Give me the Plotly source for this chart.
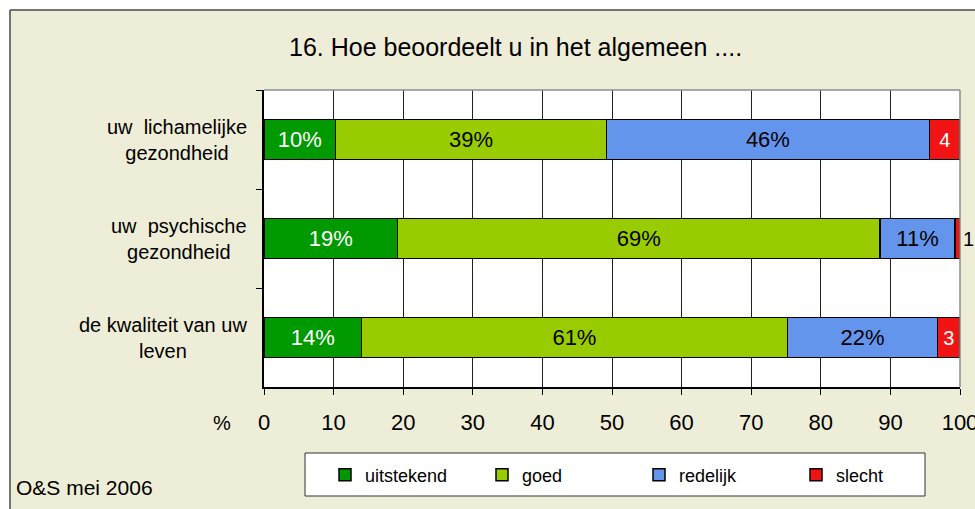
import plotly.graph_objects as go

# ---- data ----
categories = ["uw  lichamelijke<br>gezondheid", "uw  psychische<br>gezondheid", "de kwaliteit van uw<br>leven"]
series_names = ["uitstekend", "goed", "redelijk", "slecht"]
uitstekend = [10.3, 19.2, 14.0]
goed = [38.9, 69.3, 61.2]
redelijk = [46.4, 10.8, 21.6]
slecht = [4.4, 0.7, 3.19]
x_ticks = [0, 10, 20, 30, 40, 50, 60, 70, 80, 90, 100]
title_text = "16. Hoe beoordeelt u in het algemeen ...."
source_text = "O&S mei 2006"

# ---- style ----
FONT = "Liberation Sans, Arial, sans-serif"
colors = ["#009900", "#99CC00", "#6495ED", "#F21414"]
BG = "#EEEDD7"
W, H = 975, 509
L, T = 264, 90
R = W - 960
B = H - 387
PW, PH = W - L - R, H - T - B


def px_x(px):
    return (px - L) / PW


def px_y(py):
    return (H - B - py) / PH


fig = go.Figure()
values = [uitstekend, goed, redelijk, slecht]
for i, (name, vals) in enumerate(zip(series_names, values)):
    last = i == len(series_names) - 1
    if last:
        tpos = ["inside" if v >= 2 else "outside" for v in vals]
        tmpl = "%{x:.0f}"
        inside_col = "white"
        fsize = 20
    else:
        tpos = "inside"
        tmpl = "%{x:.0f}%"
        inside_col = "white" if i == 0 else "black"
        fsize = 22
    fig.add_trace(go.Bar(
        name=name,
        y=categories,
        x=vals,
        orientation="h",
        width=0.4,
        marker=dict(color=colors[i], line=dict(color="black", width=1.5)),
        texttemplate=tmpl,
        textposition=tpos,
        textangle=0,
        insidetextanchor="middle",
        insidetextfont=dict(family=FONT, size=fsize, color=inside_col),
        outsidetextfont=dict(family=FONT, size=fsize, color="black"),
        constraintext="none",
        cliponaxis=not last,
        hoverinfo="skip",
    ))

shapes = [
    # white margin strips outside the chart border
    dict(type="rect", xref="paper", yref="paper", x0=px_x(-20), x1=px_x(1000),
         y0=px_y(10), y1=px_y(-20), fillcolor="white", line=dict(width=0), layer="below"),
    dict(type="rect", xref="paper", yref="paper", x0=px_x(-20), x1=px_x(10),
         y0=px_y(530), y1=px_y(-20), fillcolor="white", line=dict(width=0), layer="below"),
    # chart border
    dict(type="line", xref="paper", yref="paper", x0=px_x(10), x1=px_x(10),
         y0=px_y(530), y1=px_y(10), line=dict(color="#4A4A4A", width=1.5)),
    dict(type="line", xref="paper", yref="paper", x0=px_x(10), x1=px_x(1000),
         y0=px_y(10), y1=px_y(10), line=dict(color="#4A4A4A", width=1.5)),
    # plot area top border
    dict(type="line", xref="paper", yref="paper", x0=0, x1=1, y0=1, y1=1,
         line=dict(color="#8C8C8C", width=1.5)),
    # legend box
    dict(type="rect", xref="paper", yref="paper", x0=px_x(305), x1=px_x(925),
         y0=px_y(496), y1=px_y(453), fillcolor="white", line=dict(color="#333333", width=1)),
]

annotations = [
    dict(text=title_text, xref="paper", yref="paper", x=px_x(515), y=px_y(47),
         xanchor="center", yanchor="middle", showarrow=False,
         font=dict(family=FONT, size=25, color="black")),
    dict(text="%", xref="paper", yref="paper", x=px_x(222), y=px_y(423),
         xanchor="center", yanchor="middle", showarrow=False,
         font=dict(family=FONT, size=20, color="black")),
    dict(text=source_text, xref="paper", yref="paper", x=px_x(14), y=px_y(488),
         xanchor="left", yanchor="middle", showarrow=False,
         font=dict(family=FONT, size=21, color="black")),
]
for c in categories:
    annotations.append(dict(text=c, xref="paper", yref="y", x=px_x(249), y=c,
                            xanchor="right", yanchor="middle", align="center",
                            showarrow=False, font=dict(family=FONT, size=20, color="black")))

fig.update_layout(
    width=W, height=H,
    margin=dict(l=L, r=R, t=T, b=B, pad=0, autoexpand=False),
    paper_bgcolor=BG,
    plot_bgcolor="white",
    barmode="stack",
    showlegend=True,
    legend=dict(orientation="h", x=px_x(325), xanchor="left", y=px_y(475), yanchor="middle",
                bgcolor="rgba(0,0,0,0)", borderwidth=0, entrywidth=112, entrywidthmode="pixels",
                font=dict(family=FONT, size=18, color="black"), traceorder="normal"),
    shapes=shapes,
    annotations=annotations,
    font=dict(family=FONT, size=20, color="black"),
    xaxis=dict(range=[0, 100], tickvals=x_ticks, ticktext=[str(v) for v in x_ticks],
               showgrid=True, gridcolor="#222222", gridwidth=1,
               showline=True, linecolor="black", linewidth=1.5,
               ticks="outside", ticklen=6, tickcolor="black",
               ticklabelstandoff=9, ticklabeloverflow="allow", automargin=False, zeroline=False,
               tickfont=dict(family=FONT, size=22, color="black"), fixedrange=True),
    yaxis=dict(type="category", categoryorder="array", categoryarray=categories,
               autorange="reversed", showticklabels=False, showgrid=False,
               showline=True, linecolor="black", linewidth=1.5,
               ticks="outside", ticklen=6, tickcolor="black", tickson="boundaries",
               mirror=False, zeroline=False, automargin=False, fixedrange=True),
)
# right border of plot area
fig.add_shape(type="line", xref="paper", yref="paper", x0=1, x1=1, y0=0, y1=1,
              line=dict(color="#8C8C8C", width=1.5))

fig.write_html("out.html", config={"displayModeBar": False},
               post_script="document.body.style.margin='0';document.body.style.overflow='hidden';")
